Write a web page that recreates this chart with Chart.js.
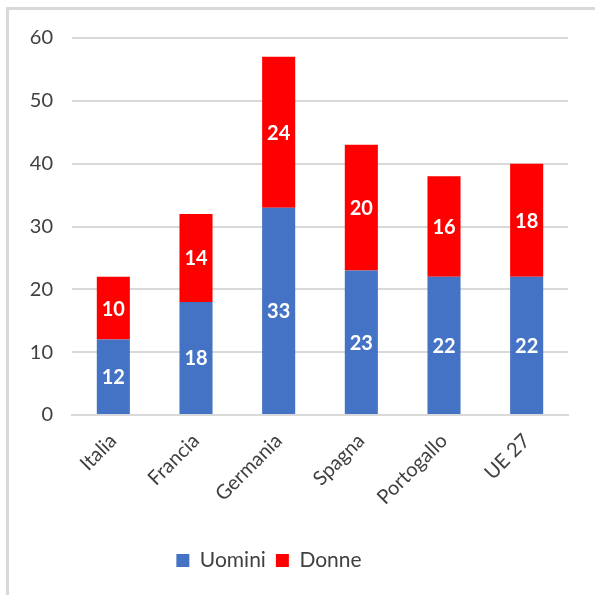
<!DOCTYPE html>
<html>
<head>
<meta charset="utf-8">
<script src="https://cdn.jsdelivr.net/npm/chart.js@4"></script>
<style>
  body { margin: 0; background: #fff; }
  .frame { position: absolute; left: 6px; top: 7px; width: 600px; height: 600px;
    border-left: 3px solid #d9d9d9; border-top: 3px solid #d9d9d9; }
  .graph-component { position: absolute; left: 0; top: 0; width: 595px; height: 595px; }
</style>
</head>
<body>
<div class="frame"></div>
<div class="graph-component">
  <canvas id="myChart" width="595" height="595"></canvas>
</div>
<script>
const categories = ["Italia", "Francia", "Germania", "Spagna", "Portogallo", "UE 27"];
const uomini = [12, 18, 33, 23, 22, 22];
const donne = [10, 14, 24, 20, 16, 18];
const yTicks = [0, 10, 20, 30, 40, 50, 60];

const FONT = "Lato, 'Open Sans', sans-serif";
const TEXT = "#404040";

// white values in the middle of each stacked piece
const barLabels = {
	id: "barLabels",
	afterDatasetsDraw(chart) {
		const ctx = chart.ctx;
		ctx.save();
		ctx.fillStyle = "#fff";
		ctx.font = "bold 20px " + FONT;
		ctx.textAlign = "center";
		ctx.textBaseline = "middle";
		chart.data.datasets.forEach((ds, i) => {
			chart.getDatasetMeta(i).data.forEach((bar, j) => {
				const mid = (bar.y + bar.base) / 2;
				ctx.fillText(ds.data[j], bar.x, mid + 1);
			});
		});
		ctx.restore();
	},
};

// legend sits a bit left of centre in the original
const legendShift = {
	id: "legendShift",
	afterLayout(chart) {
		chart.legend.left -= 20;
		chart.legend.right -= 20;
	},
};

new Chart(document.getElementById("myChart").getContext("2d"), {
	type: "bar",
	data: {
		labels: categories,
		datasets: [
			{ label: "Uomini", data: uomini, backgroundColor: "#4472c4" },
			{ label: "Donne", data: donne, backgroundColor: "#ff0000" },
		],
	},
	options: {
		responsive: false,
		animation: false,
		layout: { padding: { left: 10, right: 27, top: 38, bottom: 14 } },
		datasets: { bar: { categoryPercentage: 1, barPercentage: 0.4 } },
		scales: {
			x: {
				stacked: true,
				grid: { display: false },
				border: { color: "#d9d9d9", width: 2 },
				ticks: {
					color: TEXT,
					font: { family: FONT, size: 20 },
					minRotation: 45,
					maxRotation: 45,
					padding: 6,
				},
				afterFit(scale) { scale.height = 125; },
			},
			y: {
				stacked: true,
				min: 0,
				max: 60,
				afterBuildTicks(scale) { scale.ticks = yTicks.map(v => ({ value: v })); },
				grid: { color: "#d9d9d9", lineWidth: 2, drawTicks: false },
				border: { display: false },
				ticks: {
					color: TEXT,
					font: { family: FONT, size: 20 },
					padding: 19,
				},
				afterFit(scale) { scale.width = 62; },
			},
		},
		plugins: {
			legend: {
				position: "bottom",
				labels: {
					color: TEXT,
					font: { family: FONT, size: 21 },
					boxWidth: 13,
					boxHeight: 13,
					padding: 10,
				},
			},
			tooltip: { enabled: false },
		},
	},
	plugins: [barLabels, legendShift],
});
</script>
</body>
</html>
